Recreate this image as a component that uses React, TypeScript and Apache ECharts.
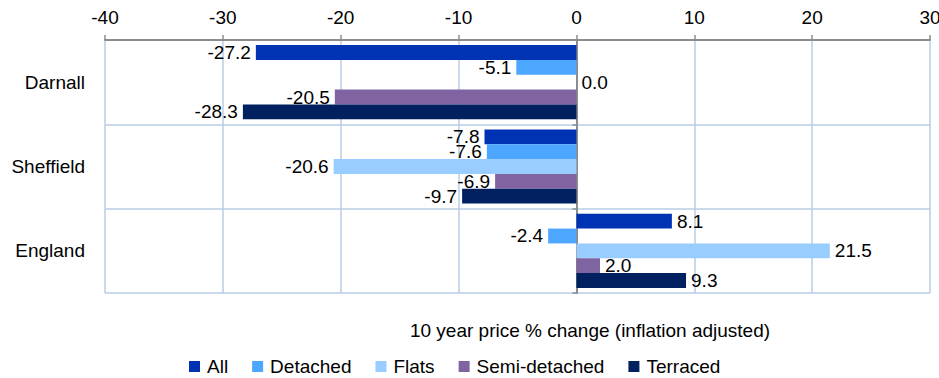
import React, { useEffect, useRef } from "react";
import * as echarts from "echarts";

const categories = ["Darnall", "Sheffield", "England"];
const seriesNames = ["All", "Detached", "Flats", "Semi-detached", "Terraced"];
const allValues = [-27.2, -7.8, 8.1];
const detachedValues = [-5.1, -7.6, -2.4];
const flatsValues = [0.0, -20.6, 21.5];
const semiValues = [-20.5, -6.9, 2.0];
const terracedValues = [-28.3, -9.7, 9.3];
const seriesColors = ["#0033B4", "#4DA6FF", "#99CCFF", "#8064A2", "#002060"];
const xTicks = { min: -40, max: 30, interval: 10 };
const axisTitle = "10 year price % change (inflation adjusted)";

const FONT = "'Liberation Sans', Arial, sans-serif";
const FS = 19;

export default function App() {
  const ref = useRef<HTMLDivElement>(null);
  useEffect(() => {
    document.body.style.margin = "0";
    const chart = echarts.init(ref.current!, null, { renderer: "svg" });
    const values = [allValues, detachedValues, flatsValues, semiValues, terracedValues];
    const gridColor = "#B9CDE5";
    const axisGray = "#8C8C8C";
    chart.setOption({
      animation: false,
      textStyle: { fontFamily: FONT },
      grid: { left: 105, right: 9, top: 40, bottom: 85, outerBoundsMode: "none", containLabel: false },
      legend: {
        data: seriesNames,
        left: 184,
        top: 352,
        itemWidth: 11,
        itemHeight: 11,
        itemGap: 24,
        icon: "rect",
        textStyle: { fontSize: FS, color: "#000", fontFamily: FONT, padding: [0, 0, 0, 2] },
      },
      graphic: [
        {
          type: "text",
          x: 590,
          y: 330,
          style: {
            text: axisTitle,
            fontSize: FS,
            fill: "#000",
            fontFamily: FONT,
            align: "center",
            verticalAlign: "middle",
          },
        },
      ],
      xAxis: {
        type: "value",
        position: "top",
        min: xTicks.min,
        max: xTicks.max,
        interval: xTicks.interval,
        axisLine: { show: true, lineStyle: { color: axisGray, width: 2 } },
        axisTick: { show: true, length: 5, lineStyle: { color: axisGray, width: 1.5 } },
        axisLabel: { fontSize: FS, color: "#000", margin: 13, fontFamily: FONT },
        splitLine: { show: true, lineStyle: { color: gridColor, width: 1.5 } },
      },
      yAxis: [
        {
          type: "category",
          data: categories,
          inverse: true,
          position: "left",
          axisLine: { show: false, onZero: false },
          axisTick: { show: false },
          axisLabel: { fontSize: FS, color: "#000", margin: 20, fontFamily: FONT },
          splitLine: { show: true, lineStyle: { color: gridColor, width: 1.5 } },
        },
        {
          type: "category",
          data: categories,
          inverse: true,
          position: "left",
          axisLine: { show: true, onZero: true, lineStyle: { color: axisGray, width: 2 } },
          axisTick: { show: true, length: 4, lineStyle: { color: axisGray, width: 1.5 } },
          axisLabel: { show: false },
          splitLine: { show: false },
        },
      ],
      series: seriesNames.map((name, si) => ({
        name,
        type: "bar",
        yAxisIndex: 0,
        barGap: "0%",
        barCategoryGap: "12%",
        itemStyle: { color: seriesColors[si] },
        label: {
          show: true,
          fontSize: FS,
          color: "#000",
          distance: 5,
          fontFamily: FONT,
          formatter: (p: any) => Number(p.value).toFixed(1),
        },
        data: values[si].map((v) => ({
          value: v,
          label: { position: v < 0 ? "left" : "right" },
        })),
      })),
    });
    return () => chart.dispose();
  }, []);
  return <div ref={ref} style={{ width: 939, height: 378 }} />;
}
